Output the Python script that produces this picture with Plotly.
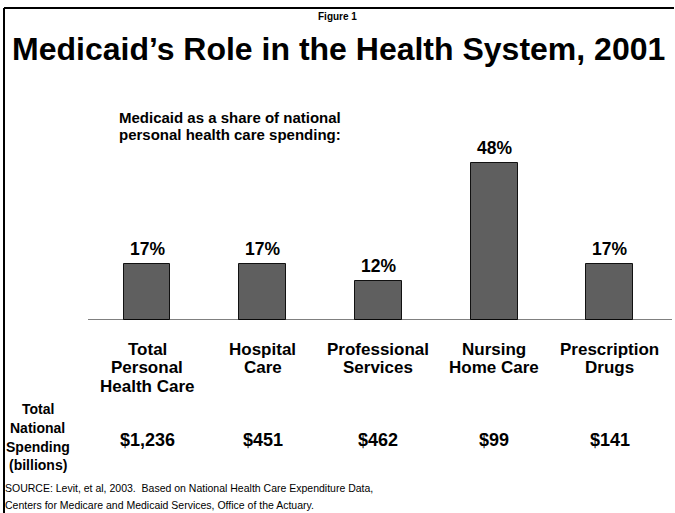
import plotly.graph_objects as go

categories = ["Total<br>Personal<br>Health Care", "Hospital<br>Care", "Professional<br>Services",
              "Nursing<br>Home Care", "Prescription<br>Drugs"]
medicaid_share = [17, 17, 12, 48, 17]
share_labels = ["17%", "17%", "12%", "48%", "17%"]
spending_labels = ["$1,236", "$451", "$462", "$99", "$141"]
row_label = ["Total", "National", "Spending", "(billions)"]

W, H = 675, 513
FONT = "Liberation Sans, Arial, sans-serif"

x_pos = list(range(len(categories)))
px_per_unit = 115.7
x0_px = 147
x_range = [-x0_px / px_per_unit, (W - x0_px) / px_per_unit]

base_px = 320
top_px = 10
px_per_pct = 3.28
y_dom = [1 - base_px / H, 1 - top_px / H]
y_range = [0, (base_px - top_px) / px_per_pct]


def py(p):
    return 1 - p / H


fig = go.Figure()
fig.add_trace(go.Bar(
    x=x_pos, y=medicaid_share, width=0.406,
    marker=dict(color="#5f5f5f", line=dict(color="#111111", width=1)),
    hoverinfo="skip", showlegend=False,
))

ann = []
for i, (v, t) in enumerate(zip(medicaid_share, share_labels)):
    ann.append(dict(x=i, y=v, xref="x", yref="y", text=f"<b>{t}</b>", showarrow=False,
                    yanchor="middle", yshift=15, font=dict(size=17.5, family=FONT, color="black")))
cat_rows = [349, 367.5, 386]
for i, c in enumerate(categories):
    for j, line in enumerate(c.split("<br>")):
        ann.append(dict(x=i, y=py(cat_rows[j]), xref="x", yref="paper", text=f"<b>{line}</b>",
                        showarrow=False, yanchor="middle", xanchor="center",
                        font=dict(size=17, family=FONT, color="black")))
for i, s in enumerate(spending_labels):
    ann.append(dict(x=i, y=py(440), xref="x", yref="paper", text=f"<b>{s}</b>", showarrow=False,
                    yanchor="middle", xanchor="center", font=dict(size=18, family=FONT, color="black")))

left_rows = [409, 428, 447, 465]
for j, line in enumerate(row_label):
    ann.append(dict(x=37.5 / W, y=py(left_rows[j]), xref="paper", yref="paper",
                    text=f"<b>{line}</b>", showarrow=False, xanchor="center", yanchor="middle",
                    font=dict(size=14, family=FONT, color="black")))

ann.append(dict(x=337 / W, y=py(16), xref="paper", yref="paper", text="<b>Figure 1</b>",
                showarrow=False, xanchor="center", yanchor="middle",
                font=dict(size=10, family=FONT, color="black")))
ann.append(dict(x=338 / W, y=py(49), xref="paper", yref="paper",
                text="<b>Medicaid’s Role in the Health System, 2001</b>",
                showarrow=False, xanchor="center", yanchor="middle",
                font=dict(size=32, family=FONT, color="black")))
for j, line in enumerate(["Medicaid as a share of national", "personal health care spending:"]):
    ann.append(dict(x=117 / W, y=py([117, 135][j]), xref="paper", yref="paper",
                    text=f"<b>{line}</b>", showarrow=False, xanchor="left", yanchor="middle",
                    font=dict(size=15, family=FONT, color="black")))
source_lines = ["SOURCE: Levit, et al, 2003.  Based on National Health Care Expenditure Data,",
                "Centers for Medicare and Medicaid Services, Office of the Actuary."]
for j, line in enumerate(source_lines):
    ann.append(dict(x=3 / W, y=py([488, 505][j]), xref="paper", yref="paper",
                    text=line.replace("  ", "&nbsp; "), showarrow=False, xanchor="left", yanchor="middle",
                    font=dict(size=10.5, family=FONT, color="black")))

shapes = [
    dict(type="line", xref="paper", yref="paper", x0=4 / W, x1=4 / W, y0=0, y1=py(8),
         line=dict(color="black", width=2)),
    dict(type="line", xref="paper", yref="paper", x0=4 / W, x1=674 / W, y0=py(8), y1=py(8),
         line=dict(color="black", width=2)),
    dict(type="line", xref="paper", yref="y", x0=88 / W, x1=672 / W, y0=0, y1=0,
         line=dict(color="black", width=1)),
]

fig.update_layout(
    width=W, height=H, margin=dict(l=0, r=0, t=0, b=0),
    paper_bgcolor="white", plot_bgcolor="white",
    xaxis=dict(range=x_range, domain=[0, 1], visible=False, fixedrange=True),
    yaxis=dict(range=y_range, domain=y_dom, visible=False, fixedrange=True),
    annotations=ann, shapes=shapes, bargap=0,
)
fig.write_html("out.html")
